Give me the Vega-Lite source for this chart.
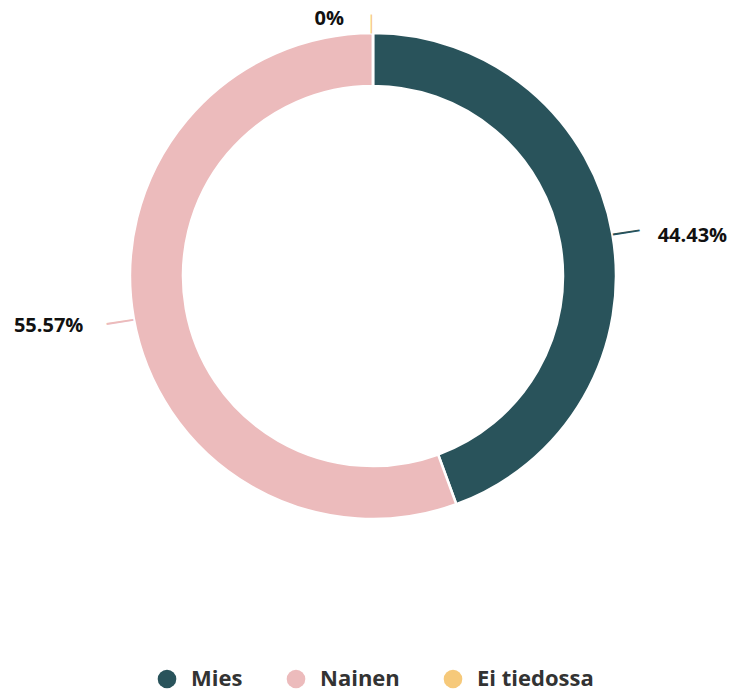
{
  "$schema": "https://vega.github.io/schema/vega-lite/v6.json",
  "width": 726,
  "height": 552,
  "autosize": {"type": "none"},
  "padding": {"left": 10, "top": 0, "right": 0, "bottom": 147},
  "background": "white",
  "config": {"view": {"stroke": null}},
  "data": {
    "values": [
      {"cat": "Mies", "value": 0.4443, "i": 1},
      {"cat": "Nainen", "value": 0.5557, "i": 2},
      {"cat": "Ei tiedossa", "value": 0, "i": 3}
    ]
  },
  "layer": [
    {
      "mark": {"type": "arc", "radius": 243, "radius2": 190, "stroke": "white", "strokeWidth": 2.5},
      "encoding": {
        "theta": {"field": "value", "type": "quantitative", "stack": true},
        "order": {"field": "i", "type": "quantitative"},
        "color": {
          "field": "cat",
          "type": "nominal",
          "scale": {"domain": ["Mies", "Nainen", "Ei tiedossa"], "range": ["#29535b", "#ecbbbc", "#f6c97a"]},
          "legend": {
            "orient": "none",
            "legendX": 146,
            "legendY": 668,
            "direction": "horizontal",
            "title": null,
            "symbolType": "circle",
            "symbolSize": 346,
            "symbolStrokeWidth": 0,
            "symbolOpacity": 1,
            "labelFont": "Open Sans",
            "labelFontSize": 22,
            "labelFontWeight": "bold",
            "labelColor": "#333333",
            "labelOffset": 13,
            "columnPadding": 42,
            "padding": 0
          }
        }
      }
    },
    {
      "mark": {"type": "text", "radius": 257, "angle": -9, "align": "center", "baseline": "middle", "font": "Liberation Sans", "fontSize": 27},
      "encoding": {
        "theta": {"field": "value", "type": "quantitative", "stack": true},
        "order": {"field": "i", "type": "quantitative"},
        "text": {"value": "—"},
        "color": {"condition": {"test": "datum.cat === 'Mies'", "value": "#29535b"}, "value": "#ecbbbc"},
        "opacity": {"condition": {"test": "datum.cat === 'Ei tiedossa'", "value": 0}, "value": 1}
      }
    },
    {
      "mark": {"type": "text", "radius": 252, "angle": 90, "align": "center", "baseline": "middle", "font": "Liberation Sans", "fontSize": 19, "color": "#f6c97a"},
      "encoding": {
        "theta": {"field": "value", "type": "quantitative", "stack": true},
        "order": {"field": "i", "type": "quantitative"},
        "text": {"value": "—"},
        "opacity": {"condition": {"test": "datum.cat === 'Ei tiedossa'", "value": 1}, "value": 0}
      }
    },
    {
      "mark": {"type": "text", "radius": 285, "align": "left", "baseline": "middle", "dx": 4, "dy": 10, "font": "Open Sans", "fontSize": 20, "fontWeight": "bold", "color": "#111111"},
      "encoding": {
        "theta": {"field": "value", "type": "quantitative", "stack": true},
        "order": {"field": "i", "type": "quantitative"},
        "text": {"field": "value", "type": "quantitative", "format": ".2~%"},
        "opacity": {"condition": {"test": "datum.cat === 'Mies'", "value": 1}, "value": 0}
      }
    },
    {
      "mark": {"type": "text", "radius": 285, "align": "right", "baseline": "middle", "dx": -9, "dy": 0, "font": "Open Sans", "fontSize": 20, "fontWeight": "bold", "color": "#111111"},
      "encoding": {
        "theta": {"field": "value", "type": "quantitative", "stack": true},
        "order": {"field": "i", "type": "quantitative"},
        "text": {"field": "value", "type": "quantitative", "format": ".2~%"},
        "opacity": {"condition": {"test": "datum.cat === 'Nainen'", "value": 1}, "value": 0}
      }
    },
    {
      "mark": {"type": "text", "radius": 257, "align": "right", "baseline": "middle", "dx": -29, "dy": 0, "font": "Open Sans", "fontSize": 20, "fontWeight": "bold", "color": "#111111"},
      "encoding": {
        "theta": {"field": "value", "type": "quantitative", "stack": true},
        "order": {"field": "i", "type": "quantitative"},
        "text": {"field": "value", "type": "quantitative", "format": ".2~%"},
        "opacity": {"condition": {"test": "datum.cat === 'Ei tiedossa'", "value": 1}, "value": 0}
      }
    }
  ]
}
